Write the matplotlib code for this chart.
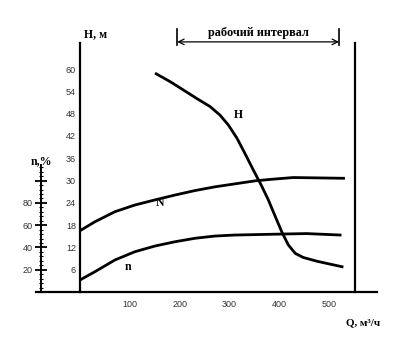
import numpy as np
import matplotlib
matplotlib.use("Agg")
import matplotlib.pyplot as plt
from matplotlib.ticker import MultipleLocator, FixedLocator

# H(Q) head curve, m
q_h = [153, 181, 207, 234, 261, 281, 298, 315, 331, 348, 364, 378, 392, 405,
       418, 432, 448, 475, 502, 526]
h_vals = [58.7, 56.6, 54.4, 52.1, 49.9, 47.6, 44.9, 41.4, 37.3, 32.8, 28.7,
          24.8, 20.3, 16.2, 12.7, 10.4, 9.3, 8.3, 7.5, 6.8]

# N(Q) power curve, plotted on the H scale
q_n = [0, 30, 70, 110, 151, 191, 231, 271, 311, 351, 382, 428, 529]
n_vals = [16.5, 18.9, 21.6, 23.4, 24.8, 26.1, 27.3, 28.3, 29.1, 29.9, 30.3,
          30.8, 30.6]

# efficiency curve, %
q_eff = [0, 30, 70, 110, 151, 191, 231, 271, 311, 408, 455, 522]
eff_vals = [10.8, 18.2, 28.7, 36.1, 41.3, 45.1, 48.2, 50.2, 51.1, 52.0, 52.4, 51.1]

h_ticks = [6, 12, 18, 24, 30, 36, 42, 48, 54, 60]
h_tick_labels = ["6", "12", "18", "24", "30", "36", "42", "48", "54", "60"]
q_ticks = [100, 200, 300, 400, 500]
eff_ticks = [20, 40, 60, 80, 100]
eff_tick_labels = ["20", "40", "60", "80", ""]
work_range = [195, 520]

W, H = 400, 340
fig = plt.figure(figsize=(W / 100, H / 100), dpi=100)

serif = ["Liberation Serif", "DejaVu Serif"]
narrow = ["Liberation Sans Narrow", "Liberation Sans", "DejaVu Sans"]

# main axes (H scale)
ax = fig.add_axes([80 / W, 1 - 292 / H, 275 / W, 249 / H])
ax.set_xlim(0, 552)
ax.set_ylim(0, 67)
for s in ["top", "bottom"]:
    ax.spines[s].set_visible(False)
ax.spines["left"].set_linewidth(1.6)
ax.spines["right"].set_linewidth(1.6)
ax.yaxis.set_major_locator(FixedLocator(h_ticks))
ax.set_yticklabels(h_tick_labels, family=narrow, fontsize=6.5, color="#333333")
ax.xaxis.set_major_locator(FixedLocator(q_ticks))
ax.set_xticklabels([str(t) for t in q_ticks], family=narrow, fontsize=6.5, color="#333333")
ax.tick_params(axis="y", length=0, pad=3)
ax.tick_params(axis="x", length=0, pad=6)

# bottom line, longer than the axes
ax.axhline(0, xmin=-44 / 275, xmax=297 / 275, color="black", lw=1.6, clip_on=False)

ax.plot(q_h, h_vals, color="black", lw=2, solid_joinstyle="round")
ax.plot(q_n, n_vals, color="black", lw=2, solid_joinstyle="round")
ax.plot(q_eff, [e * 0.3 for e in eff_vals], color="black", lw=2, solid_joinstyle="round")

ax.text(317, 47.5, "H", family=serif, fontsize=8.5, fontweight="bold", ha="center", va="center")
ax.text(161, 24.0, "N", family=serif, fontsize=8.5, fontweight="bold", ha="center", va="center")
ax.text(97, 6.8, "n", family=serif, fontsize=8.5, fontweight="bold", ha="center", va="center")

# working interval arrow
y_arr = 67.3
ax.annotate("", xy=(work_range[0], y_arr), xytext=(work_range[1], y_arr),
            arrowprops=dict(arrowstyle="<->", lw=0.9, color="black", shrinkA=0, shrinkB=0),
            annotation_clip=False)
for xq in work_range:
    ax.plot([xq, xq], [y_arr - 0.8, y_arr + 3.4], color="black", lw=1.2, clip_on=False)
ax.text(sum(work_range) / 2, y_arr + 0.7, "рабочий интервал", family=serif, fontsize=8.8,
        fontweight="bold", ha="center", va="bottom")

fig.text(96 / W, 1 - 34 / H, "H, м", family=serif, fontsize=8.5, fontweight="bold", ha="center", va="center")
fig.text(363 / W, 1 - 323 / H, "Q, м³/ч", family=serif, fontsize=8, fontweight="bold", ha="center", va="center")

# efficiency axis
ax2 = fig.add_axes([41 / W, 1 - 292 / H, 0.01, 127 / H])
ax2.set_ylim(0, 114)
for s in ["top", "bottom", "right"]:
    ax2.spines[s].set_visible(False)
ax2.spines["left"].set_linewidth(1.4)
ax2.patch.set_visible(False)
ax2.set_xticks([])
ax2.yaxis.set_major_locator(FixedLocator(eff_ticks))
ax2.yaxis.set_minor_locator(MultipleLocator(4))
ax2.set_yticklabels(eff_tick_labels, family=narrow, fontsize=6.5, color="#333333")
ax2.tick_params(axis="y", which="major", direction="inout", length=8, width=1.3, pad=2)
ax2.tick_params(axis="y", which="minor", direction="inout", length=3, width=0.8)
fig.text(41 / W, 1 - 161 / H, "n,%", family=serif, fontsize=8.5, fontweight="bold", ha="center", va="center")

fig.savefig("out.png", dpi=100)
